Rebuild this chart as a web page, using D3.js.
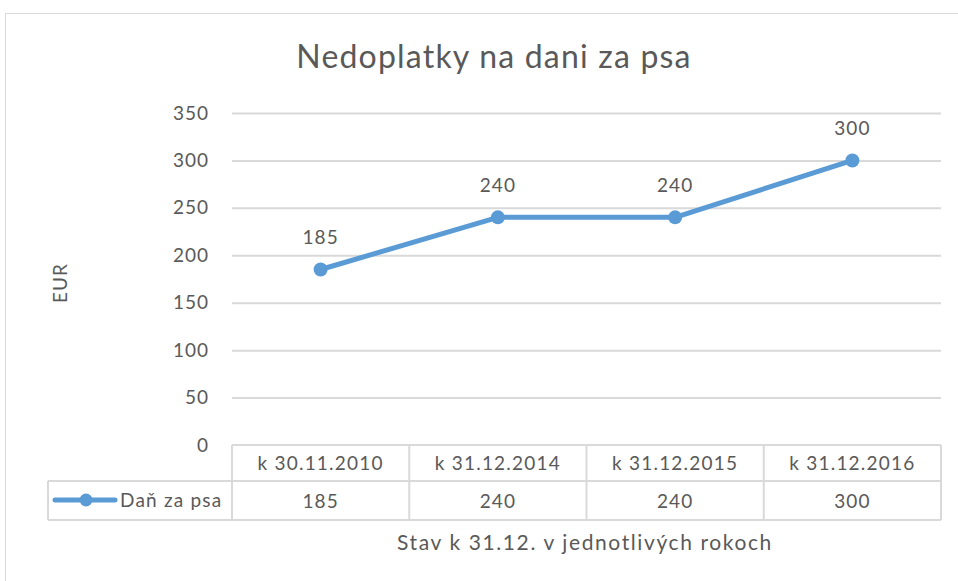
<!DOCTYPE html>
<html><head><meta charset="utf-8">
<script src="https://cdn.jsdelivr.net/npm/d3@7"></script>
<style>body{margin:0;background:#fff}svg{display:block}text{font-family:Lato,"Open Sans",sans-serif;fill:#595959}</style>
</head><body>
<script>
const categories = ["k 30.11.2010","k 31.12.2014","k 31.12.2015","k 31.12.2016"];
const values = [185,240,240,300];
const seriesName = "Daň za psa";
const yTicks = [0,50,100,150,200,250,300,350];
const title = "Nedoplatky na dani za psa";
const xTitle = "Stav k 31.12. v jednotlivých rokoch";
const yTitle = "EUR";

(function(){
const W=958,H=581;
const svg=d3.select("body").append("svg").attr("width",W).attr("height",H);
svg.append("rect").attr("x",5.5).attr("y",13.5).attr("width",W).attr("height",H).attr("fill","#fff").attr("stroke","#d9d9d9");

const pLeft=232,pRight=941,pTop=113,pBottom=445;
const x=d3.scaleBand().domain(categories).range([pLeft,pRight]);
const y=d3.scaleLinear().domain([0,350]).range([pBottom,pTop]);
const grid="#d9d9d9";
const FS=19, LS="1.2px";

svg.append("text").attr("x",494).attr("y",68).attr("text-anchor","middle").attr("font-size",32).attr("letter-spacing","1.2px").text(title);

svg.append("g").selectAll("line").data(yTicks.filter(d=>d>0)).join("line")
 .attr("x1",pLeft).attr("x2",pRight).attr("y1",d=>y(d)+0.5).attr("y2",d=>y(d)+0.5).attr("stroke",grid).attr("stroke-width",2);

const ya=svg.append("g").attr("transform",`translate(${pLeft-23},0)`).call(d3.axisLeft(y).tickValues(yTicks).tickSize(0).tickPadding(0));
ya.select(".domain").remove();
ya.selectAll("text").attr("font-size",FS).attr("font-family","Lato").attr("fill","#595959").attr("dy","0.32em").attr("letter-spacing","1px");

svg.append("text").attr("transform",`translate(67,283) rotate(-90)`).attr("text-anchor","middle").attr("font-size",FS).attr("letter-spacing","1px").text(yTitle);

const tableLeft=48;
const tg=svg.append("g").attr("stroke",grid).attr("stroke-width",2).attr("fill","none");
tg.append("line").attr("x1",pLeft).attr("x2",pRight).attr("y1",445).attr("y2",445);
tg.append("line").attr("x1",tableLeft).attr("x2",pRight).attr("y1",481).attr("y2",481);
tg.append("line").attr("x1",tableLeft).attr("x2",pRight).attr("y1",520).attr("y2",520);
tg.append("line").attr("x1",tableLeft).attr("x2",tableLeft).attr("y1",481).attr("y2",520);
const edges=categories.map(c=>x(c)).concat([pRight]);
tg.selectAll("line.v").data(edges).join("line").attr("class","v")
 .attr("x1",d=>d).attr("x2",d=>d).attr("y1",445).attr("y2",520);

svg.append("g").selectAll("text").data(categories).join("text")
 .attr("x",d=>x(d)+x.bandwidth()/2).attr("y",463).attr("dy","0.35em").attr("text-anchor","middle").attr("font-size",FS).attr("letter-spacing",LS).text(d=>d);
svg.append("g").selectAll("text").data(values).join("text")
 .attr("x",(d,i)=>x(categories[i])+x.bandwidth()/2).attr("y",501).attr("dy","0.35em").attr("text-anchor","middle").attr("font-size",FS).attr("letter-spacing","1px").text(d=>d);

svg.append("line").attr("x1",55).attr("x2",115).attr("y1",500).attr("y2",500).attr("stroke","#5B9BD5").attr("stroke-width",5).attr("stroke-linecap","round");
svg.append("circle").attr("cx",86).attr("cy",500).attr("r",6.5).attr("fill","#5B9BD5");
svg.append("text").attr("x",120).attr("y",500).attr("dy","0.35em").attr("font-size",FS).attr("letter-spacing","1.2px").text(seriesName);

const pts=values.map((v,i)=>[x(categories[i])+x.bandwidth()/2,y(v)]);
svg.append("path").attr("d",d3.line()(pts)).attr("fill","none").attr("stroke","#5B9BD5").attr("stroke-width",5).attr("stroke-linejoin","round");
svg.append("g").selectAll("circle").data(pts).join("circle").attr("cx",d=>d[0]).attr("cy",d=>d[1]).attr("r",7).attr("fill","#5B9BD5");
svg.append("g").selectAll("text").data(values).join("text")
 .attr("x",(d,i)=>pts[i][0]).attr("y",(d,i)=>pts[i][1]-32).attr("dy","0.35em").attr("text-anchor","middle").attr("font-size",FS).attr("letter-spacing","1px").text(d=>d);

svg.append("text").attr("x",585).attr("y",543).attr("dy","0.35em").attr("text-anchor","middle").attr("font-size",21).attr("letter-spacing","1.6px").text(xTitle);
})();
</script>
</body></html>
